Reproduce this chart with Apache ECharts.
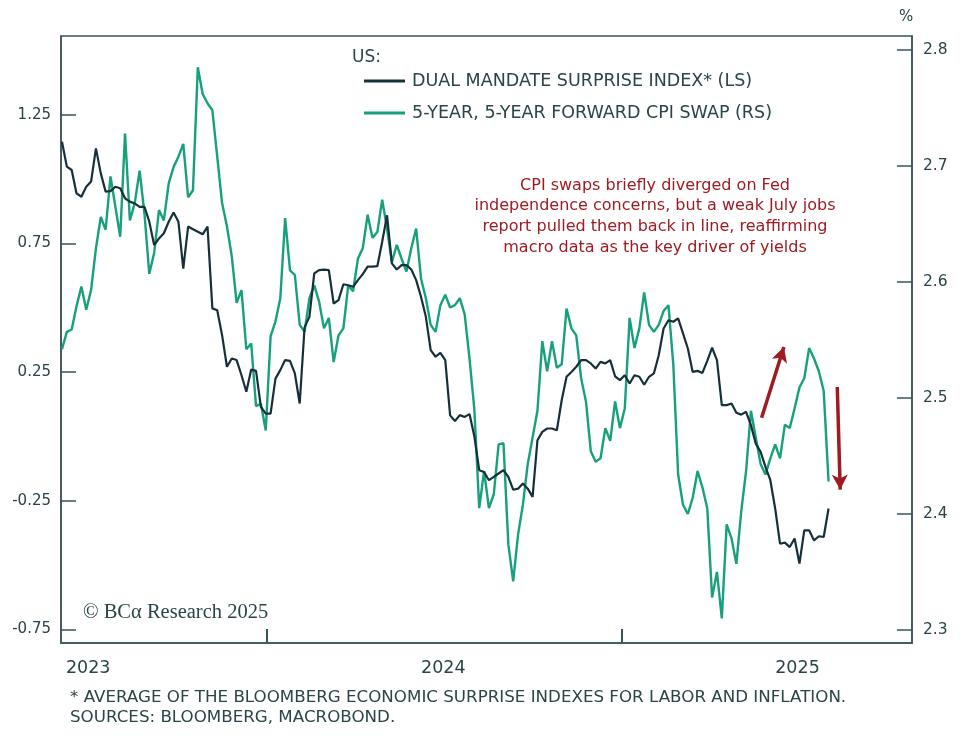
<!DOCTYPE html>
<html>
<head>
<meta charset="utf-8">
<script src="https://cdn.jsdelivr.net/npm/echarts@6/dist/echarts.min.js"></script>
<style>
  html, body { margin: 0; padding: 0; background: #ffffff; }
  #chart { width: 975px; height: 741px; }
</style>
</head>
<body>
<div id="chart"></div>
<script>
// ---- Data ----
// Samples every 5 days starting 2023-06-04
const seriesStart = '2023-06-04';
const stepDays = 5;

// Dual mandate surprise index (left scale)
const dualMandate = [
  1.146, 1.049, 1.036, 0.945, 0.932, 0.971, 0.991, 1.120, 1.023, 0.952,
  0.954, 0.971, 0.965, 0.926, 0.913, 0.906, 0.893, 0.893, 0.835, 0.744,
  0.770, 0.790, 0.835, 0.871, 0.835, 0.653, 0.816, 0.806, 0.796, 0.786,
  0.816, 0.498, 0.491, 0.394, 0.271, 0.303, 0.297, 0.238, 0.174, 0.260,
  0.255, 0.115, 0.089, 0.089, 0.225, 0.258, 0.297, 0.294, 0.245, 0.128,
  0.424, 0.465, 0.634, 0.647, 0.649, 0.647, 0.517, 0.530, 0.592, 0.588,
  0.582, 0.608, 0.631, 0.660, 0.660, 0.662, 0.757, 0.860, 0.673, 0.649,
  0.666, 0.666, 0.649, 0.608, 0.543, 0.465, 0.336, 0.310, 0.325, 0.297,
  0.082, 0.060, 0.083, 0.076, 0.087, 0.000, -0.131, -0.138, -0.170, -0.157,
  -0.144, -0.131, -0.157, -0.207, -0.203, -0.183, -0.203, -0.235, -0.015, 0.018,
  0.031, 0.031, 0.024, 0.141, 0.232, 0.251, 0.271, 0.297, 0.297, 0.284,
  0.264, 0.290, 0.284, 0.297, 0.234, 0.219, 0.238, 0.206, 0.238, 0.232,
  0.201, 0.232, 0.245, 0.316, 0.420, 0.452, 0.446, 0.459, 0.401, 0.342,
  0.251, 0.255, 0.247, 0.294, 0.345, 0.297, 0.122, 0.122, 0.128, 0.092,
  0.085, 0.096, 0.044, -0.028, -0.060, -0.118, -0.170, -0.280, -0.417, -0.413,
  -0.430, -0.397, -0.494, -0.365, -0.365, -0.404, -0.388, -0.391, -0.280
];

// 5-year, 5-year forward CPI swap (right scale, %)
const cpiSwap = [
  2.542, 2.557, 2.559, 2.579, 2.596, 2.576, 2.593, 2.629, 2.656, 2.645,
  2.691, 2.665, 2.639, 2.728, 2.653, 2.668, 2.696, 2.659, 2.607, 2.625,
  2.662, 2.653, 2.685, 2.699, 2.708, 2.719, 2.673, 2.679, 2.785, 2.762,
  2.754, 2.748, 2.708, 2.668, 2.648, 2.622, 2.582, 2.593, 2.542, 2.547,
  2.493, 2.495, 2.472, 2.553, 2.566, 2.586, 2.655, 2.610, 2.606, 2.563,
  2.557, 2.586, 2.597, 2.583, 2.560, 2.569, 2.531, 2.554, 2.560, 2.597,
  2.592, 2.620, 2.629, 2.658, 2.638, 2.643, 2.671, 2.646, 2.617, 2.632,
  2.620, 2.609, 2.629, 2.646, 2.603, 2.586, 2.563, 2.557, 2.580, 2.589,
  2.578, 2.580, 2.586, 2.572, 2.534, 2.490, 2.405, 2.437, 2.405, 2.417,
  2.460, 2.461, 2.374, 2.342, 2.382, 2.408, 2.443, 2.466, 2.489, 2.549,
  2.523, 2.549, 2.526, 2.529, 2.577, 2.560, 2.554, 2.517, 2.497, 2.454,
  2.445, 2.448, 2.474, 2.463, 2.497, 2.474, 2.491, 2.569, 2.543, 2.560,
  2.591, 2.563, 2.557, 2.563, 2.575, 2.580, 2.529, 2.434, 2.408, 2.400,
  2.414, 2.437, 2.423, 2.405, 2.328, 2.350, 2.310, 2.391, 2.379, 2.357,
  2.402, 2.437, 2.489, 2.466, 2.443, 2.434, 2.448, 2.460, 2.448, 2.477,
  2.474, 2.491, 2.509, 2.517, 2.543, 2.534, 2.523, 2.506, 2.428
];

// Axis ticks / labels
const leftTicks = [-0.75, -0.25, 0.25, 0.75, 1.25];
const rightTicks = [2.3, 2.4, 2.5, 2.6, 2.7, 2.8];
const yearTicks = ['2024-01-01', '2025-01-01'];
const yearLabels = ['2023-07-01', '2024-07-01', '2025-07-01'];
const xRange = ['2023-06-03', '2025-10-27'];
const leftRange = [-0.803, 1.557];
const rightRange = [2.2888, 2.812];

// Annotation arrows (date, % on right scale)
const arrowUp = [['2025-05-25', 2.483], ['2025-06-17', 2.544]];
const arrowDown = [['2025-08-11', 2.5095], ['2025-08-14', 2.421]];

const names = ['DUAL MANDATE SURPRISE INDEX* (LS)', '5-YEAR, 5-YEAR FORWARD CPI SWAP (RS)'];
const annotation = 'CPI swaps briefly diverged on Fed\nindependence concerns, but a weak July jobs\nreport pulled them back in line, reaffirming\nmacro data as the key driver of yields';
const footnote = '* AVERAGE OF THE BLOOMBERG ECONOMIC SURPRISE INDEXES FOR LABOR AND INFLATION.\nSOURCES: BLOOMBERG, MACROBOND.';

// ---- Build ----
function ts(s) {
  const p = s.split('-').map(Number);
  return Date.UTC(p[0], p[1] - 1, p[2]);
}
const startTs = ts(seriesStart);
const DAY = 86400000;
const dates = dualMandate.map((_, i) => startTs + i * stepDays * DAY);

const TEXT = '#2b4447';
const AXIS = '#3a5356';
const BLACK = '#16303a';
const GREEN = '#17a07c';
const RED = '#9e1b22';
const FONT = '"DejaVu Sans", "Open Sans", sans-serif';

const chart = echarts.init(document.getElementById('chart'));
chart.setOption({
  animation: false,
  backgroundColor: '#ffffff',
  grid: {
    left: 61, right: 63, top: 36, bottom: 98,
    show: true, borderColor: AXIS, borderWidth: 1.5, backgroundColor: 'transparent'
  },
  legend: {
    orient: 'vertical',
    left: 359, top: 66,
    itemWidth: 41, itemHeight: 3, itemGap: 12,
    icon: 'rect',
    data: names,
    textStyle: { color: TEXT, fontSize: 17.5, fontFamily: FONT, lineHeight: 20, padding: [0, 0, 0, 2] },
    selectedMode: false
  },
  xAxis: {
    type: 'value',
    min: ts(xRange[0]), max: ts(xRange[1]),
    axisLine: { show: true, onZero: false, lineStyle: { color: AXIS, width: 1.5 } },
    axisTick: { show: true, inside: true, length: 14, customValues: yearTicks.map(ts), lineStyle: { color: AXIS, width: 2 } },
    axisLabel: {
      customValues: yearLabels.map(ts),
      formatter: function (v) { return String(new Date(v).getUTCFullYear()); },
      color: TEXT, fontSize: 17.5, fontFamily: FONT, margin: 16, hideOverlap: false
    },
    splitLine: { show: false }
  },
  yAxis: [
    {
      type: 'value', position: 'left',
      min: leftRange[0], max: leftRange[1],
      axisLine: { show: true, lineStyle: { color: AXIS, width: 1.5 } },
      axisTick: { show: true, inside: true, length: 15, customValues: leftTicks, lineStyle: { color: AXIS, width: 1.5 } },
      axisLabel: { customValues: leftTicks, color: TEXT, fontSize: 15, fontFamily: FONT, margin: 10 },
      splitLine: { show: false }
    },
    {
      type: 'value', position: 'right',
      min: rightRange[0], max: rightRange[1],
      axisLine: { show: true, lineStyle: { color: AXIS, width: 1.5 } },
      axisTick: { show: true, inside: true, length: 15, customValues: rightTicks, lineStyle: { color: AXIS, width: 1.5 } },
      axisLabel: { customValues: rightTicks, color: TEXT, fontSize: 15.5, fontFamily: FONT, margin: 11 },
      splitLine: { show: false }
    }
  ],
  series: [
    {
      name: names[1], type: 'line', yAxisIndex: 1,
      data: dates.map((d, i) => [d, cpiSwap[i]]),
      showSymbol: false, symbol: 'none',
      lineStyle: { color: GREEN, width: 2.4 }, itemStyle: { color: GREEN },
      z: 2,
      markLine: {
        silent: true, symbol: ['none', 'arrow'], symbolSize: [12, 15], animation: false,
        label: { show: false },
        lineStyle: { color: RED, width: 3.5, type: 'solid' },
        emphasis: { disabled: true },
        data: [
          [{ coord: [ts(arrowUp[0][0]), arrowUp[0][1]] }, { coord: [ts(arrowUp[1][0]), arrowUp[1][1]] }],
          [{ coord: [ts(arrowDown[0][0]), arrowDown[0][1]] }, { coord: [ts(arrowDown[1][0]), arrowDown[1][1]] }]
        ]
      }
    },
    {
      name: names[0], type: 'line', yAxisIndex: 0,
      data: dates.map((d, i) => [d, dualMandate[i]]),
      showSymbol: false, symbol: 'none',
      lineStyle: { color: BLACK, width: 2.2 }, itemStyle: { color: BLACK },
      z: 3
    }
  ],
  graphic: [
    { type: 'text', left: 352, top: 49, style: { text: 'US:', fill: TEXT, font: '17px ' + FONT } },
    { type: 'text', left: 899, top: 10, style: { text: '%', fill: TEXT, font: '15px ' + FONT } },
    {
      type: 'text', x: 655, y: 175,
      style: { text: annotation, fill: RED, font: '16px ' + FONT, textAlign: 'center', lineHeight: 20.7 }
    },
    { type: 'text', left: 83, top: 602, style: { text: '© BCα Research 2025', fill: TEXT, font: '20.5px "Liberation Serif", "DejaVu Serif", serif' } },
    { type: 'text', left: 70, top: 688, style: { text: footnote, fill: TEXT, font: '16.7px ' + FONT, lineHeight: 19.5 } }
  ]
});
</script>
</body>
</html>
